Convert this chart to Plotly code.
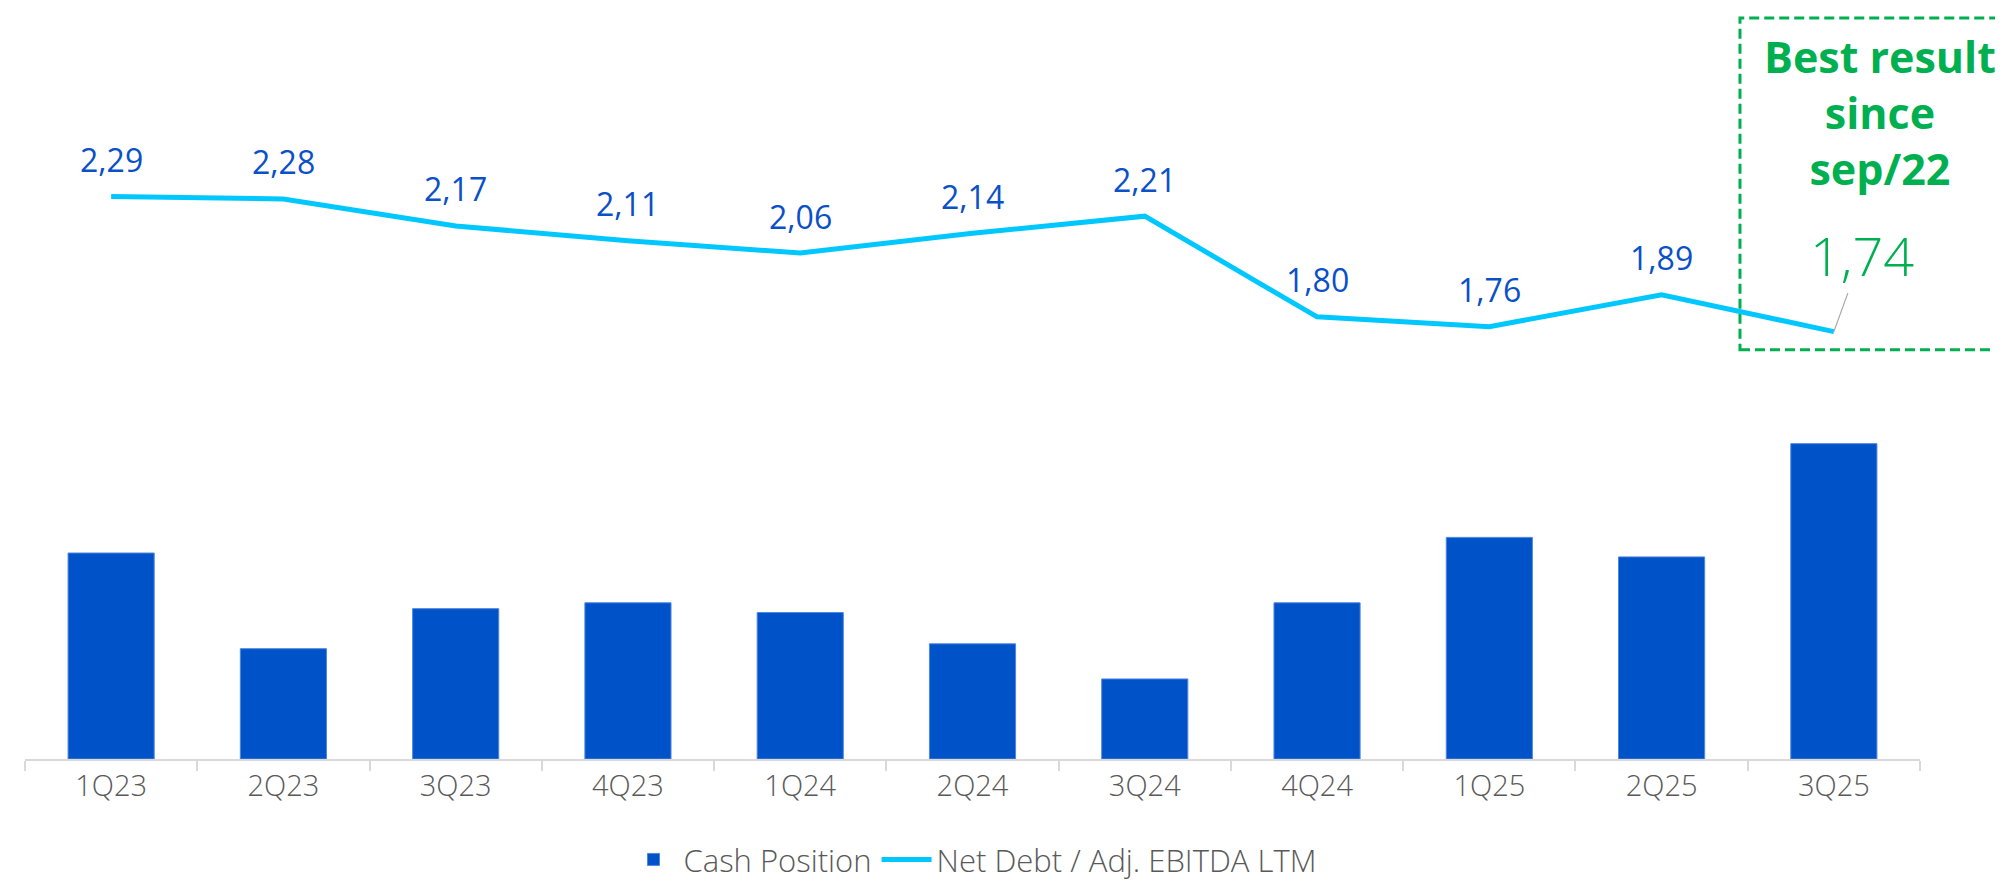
import plotly.graph_objects as go

# ---- data ----
quarters = ["1Q23", "2Q23", "3Q23", "4Q23", "1Q24", "2Q24", "3Q24", "4Q24", "1Q25", "2Q25", "3Q25"]
cash_position = [211, 113, 154, 160, 150, 118, 82, 160, 227, 207, 323]  # relative bar heights (no values shown)
leverage = [2.29, 2.28, 2.17, 2.11, 2.06, 2.14, 2.21, 1.80, 1.76, 1.89, 1.74]

BAR_BLUE = "#0052C8"
LINE_CYAN = "#00C8FF"
LABEL_BLUE = "#0A50C8"
GREEN = "#00B050"
GRAY_TXT = "#595959"
AXIS_GRAY = "#D9D9D9"
FONT = "Open Sans"

def fmt(v):
    return f"{v:.2f}".replace(".", ",")

fig = go.Figure()
fig.add_trace(go.Bar(
    x=quarters, y=cash_position, name="Cash Position",
    marker=dict(color=BAR_BLUE, line=dict(color="#4F86E0", width=1)),
    yaxis="y", hoverinfo="skip",
))
fig.add_trace(go.Scatter(
    x=quarters, y=leverage, name="Net Debt / Adj. EBITDA LTM",
    mode="lines", line=dict(color=LINE_CYAN, width=5),
    yaxis="y2", hoverinfo="skip",
))

annotations = []
for q, v in zip(quarters[:-1], leverage[:-1]):
    annotations.append(dict(
        x=q, y=v, xref="x", yref="y2", text=fmt(v), showarrow=False,
        yshift=37, yanchor="middle", xanchor="center",
        font=dict(family=FONT, size=32, color=LABEL_BLUE, weight=400),
    ))
# highlighted last value
annotations.append(dict(
    x=quarters[-1], y=leverage[-1], xref="x", yref="y2", text=fmt(leverage[-1]),
    showarrow=True, arrowhead=0, arrowwidth=1.2, arrowcolor="#A6A6A6",
    ax=28, ay=-77, standoff=0, startstandoff=0,
    font=dict(family=FONT, size=54, color=GREEN, weight=300),
))
annotations.append(dict(
    x=0.979, y=0.872, xref="paper", yref="paper",
    text="<b>Best result<br>since<br>sep/22</b>", showarrow=False,
    xanchor="center", yanchor="middle", align="center",
    font=dict(family=FONT, size=43, color=GREEN),
))

shapes = [dict(
    type="rect", xref="paper", yref="paper",
    x0=0.905, x1=1.06, y0=0.5522, y1=1.0,
    line=dict(color=GREEN, width=3, dash="10px,5px"),
    fillcolor="rgba(0,0,0,0)", layer="below",
)]

fig.update_layout(
    width=2003, height=889,
    margin=dict(l=17, r=91, t=10, b=120),
    paper_bgcolor="white", plot_bgcolor="white",
    bargap=0.5,
    showlegend=True,
    legend=dict(
        orientation="h", x=0.5, xanchor="center", y=-0.136, yanchor="middle",
        font=dict(family=FONT, size=31, color=GRAY_TXT, weight=300),
        itemwidth=50, tracegroupgap=0,
    ),
    xaxis=dict(
        type="category", range=[-0.5, 10.5],
        showline=True, linecolor=AXIS_GRAY, linewidth=2,
        ticks="outside", tickson="boundaries", ticklen=10, tickwidth=2, tickcolor=AXIS_GRAY,
        tickfont=dict(family=FONT, size=29, color=GRAY_TXT, weight=300),
        showgrid=False, zeroline=False,
    ),
    yaxis=dict(range=[0, 759], visible=False, showgrid=False, zeroline=False),
    yaxis2=dict(range=[0, 759 / 251.6], overlaying="y", visible=False, showgrid=False, zeroline=False),
    annotations=annotations,
    shapes=shapes,
    font=dict(family=FONT),
)

fig.write_html("out.html")
